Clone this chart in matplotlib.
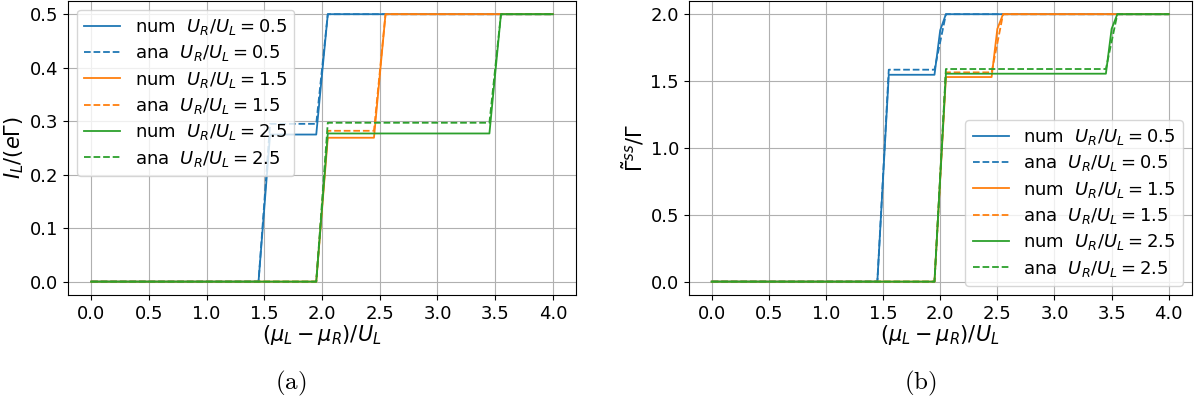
import matplotlib
matplotlib.use("Agg")
import matplotlib.pyplot as plt

plt.rcParams["font.size"] = 13
plt.rcParams["axes.labelsize"] = 15
plt.rcParams["mathtext.fontset"] = "dejavusans"
plt.rcParams["legend.labelspacing"] = 0.35

ratios = [0.5, 1.5, 2.5]
colors = ["tab:blue", "tab:orange", "tab:green"]

# current through the left lead, numerical vs analytical
cur_num_x = [[0, 1.45, 1.55, 1.95, 2.05, 4.0],
             [0, 1.95, 2.05, 2.45, 2.55, 4.0],
             [0, 1.95, 2.05, 3.45, 3.55, 4.0]]
cur_num_y = [[0, 0, 0.275, 0.275, 0.5, 0.5],
             [0, 0, 0.269, 0.269, 0.5, 0.5],
             [0, 0, 0.277, 0.277, 0.5, 0.5]]
cur_ana_y = [[0, 0, 0.295, 0.295, 0.5, 0.5],
             [0, 0, 0.282, 0.282, 0.5, 0.5],
             [0, 0, 0.297, 0.297, 0.5, 0.5]]

# steady-state rate
rate_num_x = [[0, 1.45, 1.55, 1.95, 2.0, 2.05, 4.0],
              [0, 1.95, 2.05, 2.45, 2.5, 2.55, 4.0],
              [0, 1.95, 2.05, 3.45, 3.5, 3.55, 4.0]]
rate_num_y = [[0, 0, 1.547, 1.547, 1.88, 2.0, 2.0],
              [0, 0, 1.53, 1.53, 1.89, 2.0, 2.0],
              [0, 0, 1.555, 1.555, 1.89, 2.0, 2.0]]
rate_ana_x = [[0, 1.45, 1.55, 1.95, 2.05, 4.0],
              [0, 1.95, 2.05, 2.45, 2.55, 4.0],
              [0, 1.95, 2.05, 3.45, 3.55, 4.0]]
rate_ana_y = [[0, 0, 1.585, 1.585, 2.0, 2.0],
              [0, 0, 1.565, 1.565, 2.0, 2.0],
              [0, 0, 1.59, 1.59, 2.0, 2.0]]

fig = plt.figure(figsize=(12, 4.12), dpi=100)
ax1 = fig.add_axes([0.0567, 0.284, 0.4233, 0.714])
ax2 = fig.add_axes([0.574, 0.284, 0.419, 0.714])

for i in range(3):
    lab = r"$U_R/U_L = %.1f$" % ratios[i]
    ax1.plot(cur_num_x[i], cur_num_y[i], color=colors[i], lw=1.3, label="num  " + lab)
    ax1.plot(cur_num_x[i], cur_ana_y[i], color=colors[i], lw=1.3, ls="--", label="ana  " + lab)
    ax2.plot(rate_num_x[i], rate_num_y[i], color=colors[i], lw=1.3, label="num  " + lab)
    ax2.plot(rate_ana_x[i], rate_ana_y[i], color=colors[i], lw=1.3, ls="--", label="ana  " + lab)

ax1.set_ylabel(r"$I_L/(e\Gamma)$", labelpad=3)
ax2.set_ylabel(r"$\tilde{\Gamma}^{ss}/\Gamma$", labelpad=3)
for ax in (ax1, ax2):
    ax.set_xlabel(r"$(\mu_L - \mu_R)/U_L$", labelpad=0)
    ax.set_xticks([0, 0.5, 1.0, 1.5, 2.0, 2.5, 3.0, 3.5, 4.0])
    ax.grid(True)
ax1.set_yticks([0, 0.1, 0.2, 0.3, 0.4, 0.5])
ax2.set_yticks([0, 0.5, 1.0, 1.5, 2.0])
ax1.legend(loc="upper left", fontsize=13)
ax2.legend(loc="lower right", fontsize=13)

fig.text(0.242, 0.07, r"$\mathrm{(a)}$", ha="center", va="center", fontsize=18,
         math_fontfamily="cm")
fig.text(0.767, 0.07, r"$\mathrm{(b)}$", ha="center", va="center", fontsize=18,
         math_fontfamily="cm")

fig.savefig("out.png", dpi=100)
